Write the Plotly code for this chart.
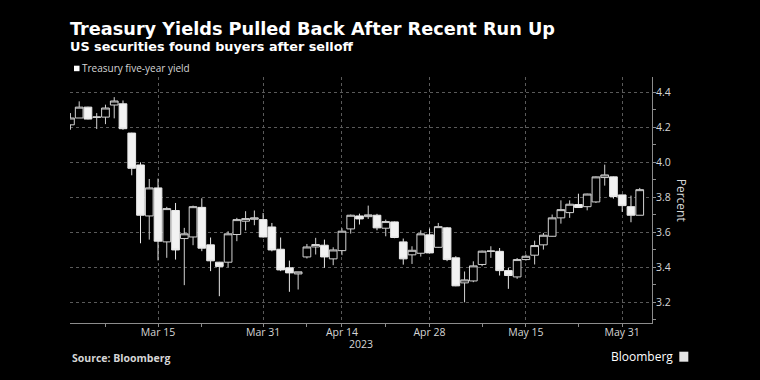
import plotly.graph_objects as go

dates = ["2023-03-01","2023-03-02","2023-03-03","2023-03-06","2023-03-07","2023-03-08","2023-03-09","2023-03-10",
         "2023-03-13","2023-03-14","2023-03-15","2023-03-16","2023-03-17","2023-03-20","2023-03-21","2023-03-22",
         "2023-03-23","2023-03-24","2023-03-27","2023-03-28","2023-03-29","2023-03-30","2023-03-31","2023-04-03",
         "2023-04-04","2023-04-05","2023-04-06","2023-04-10","2023-04-11","2023-04-12","2023-04-13","2023-04-14",
         "2023-04-17","2023-04-18","2023-04-19","2023-04-20","2023-04-21","2023-04-24","2023-04-25","2023-04-26",
         "2023-04-27","2023-04-28","2023-05-01","2023-05-02","2023-05-03","2023-05-04","2023-05-05","2023-05-08",
         "2023-05-09","2023-05-10","2023-05-11","2023-05-12","2023-05-15","2023-05-16","2023-05-17","2023-05-18",
         "2023-05-19","2023-05-22","2023-05-23","2023-05-24","2023-05-25","2023-05-26","2023-05-30","2023-05-31",
         "2023-06-01","2023-06-02"]
open_ = [4.213,4.252,4.314,4.255,4.257,4.326,4.333,4.166,3.984,3.693,3.853,3.545,3.724,3.564,3.573,3.742,
         3.528,3.429,3.429,3.587,3.663,3.674,3.672,3.630,3.503,3.397,3.362,3.459,3.516,3.526,3.448,3.495,
         3.619,3.693,3.689,3.697,3.623,3.659,3.545,3.471,3.480,3.585,3.514,3.625,3.454,3.311,3.322,3.416,
         3.490,3.491,3.381,3.345,3.444,3.469,3.528,3.577,3.682,3.712,3.758,3.746,3.773,3.912,3.916,3.813,
         3.746,3.697]
high = [4.280,4.347,4.316,4.280,4.328,4.371,4.352,4.168,3.999,3.904,3.906,3.745,3.767,3.625,3.752,3.794,
        3.570,3.431,3.606,3.682,3.720,3.724,3.710,3.653,3.570,3.438,3.374,3.533,3.568,3.558,3.514,3.623,
        3.701,3.706,3.752,3.705,3.672,3.661,3.564,3.520,3.611,3.621,3.653,3.630,3.463,3.376,3.434,3.495,
        3.520,3.510,3.396,3.453,3.473,3.552,3.596,3.701,3.782,3.782,3.820,3.820,3.918,3.986,3.918,3.815,
        3.809,3.853]
low = [4.185,4.252,4.244,4.189,4.217,4.250,4.185,3.925,3.537,3.558,3.439,3.454,3.444,3.298,3.526,3.492,
       3.378,3.235,3.400,3.549,3.610,3.640,3.570,3.491,3.378,3.260,3.273,3.450,3.473,3.397,3.412,3.469,
       3.592,3.644,3.676,3.611,3.577,3.566,3.415,3.419,3.461,3.480,3.512,3.435,3.292,3.200,3.315,3.406,
       3.454,3.353,3.277,3.334,3.438,3.416,3.501,3.575,3.649,3.682,3.739,3.725,3.767,3.866,3.792,3.716,
       3.657,3.697]
close = [4.252,4.314,4.246,4.258,4.309,4.349,4.191,3.965,3.697,3.853,3.549,3.735,3.499,3.591,3.746,3.509,
         3.437,3.405,3.591,3.672,3.678,3.682,3.573,3.499,3.385,3.368,3.374,3.516,3.530,3.459,3.499,3.606,
         3.697,3.676,3.699,3.625,3.661,3.570,3.448,3.497,3.591,3.482,3.632,3.444,3.294,3.328,3.408,3.492,
         3.493,3.381,3.353,3.444,3.463,3.524,3.583,3.682,3.729,3.760,3.741,3.818,3.916,3.927,3.804,3.752,
         3.697,3.843]

tick_dates = ["2023-03-15","2023-03-31","2023-04-14","2023-04-28","2023-05-15","2023-05-31"]
tick_labels = ["Mar 15","Mar 31","Apr 14","Apr 28","May 15","May 31"]
minor_dates = ["2023-03-07","2023-03-22","2023-04-10","2023-04-21","2023-05-08","2023-05-23"]
holidays = ["2023-04-07","2023-05-29"]

noon = lambda d: d + " 12:00"

fig = go.Figure(go.Candlestick(
    x=[noon(d) for d in dates], open=open_, high=high, low=low, close=close,
    increasing=dict(line=dict(color="#d2d2d2", width=1), fillcolor="#000000"),
    decreasing=dict(line=dict(color="#e8e8e8", width=1), fillcolor="#f2f2f2"),
    whiskerwidth=0, showlegend=False, hoverinfo="skip"))

W, H = 760, 380
L, R, T, B = 70, 651.7, 77.3, 323.3
pw, ph = R - L, B - T
px = lambda x: (x - L) / pw
py = lambda y: (B - y) / ph

tickfont = dict(family="Open Sans", size=10.5, color="#d6d6d6")

fig.update_layout(
    width=W, height=H,
    margin=dict(l=L, r=W - R, t=T, b=H - B),
    paper_bgcolor="#000000", plot_bgcolor="#000000",
    boxgap=0.12, boxgroupgap=0,
    font=dict(family="Open Sans", color="#d6d6d6"),
    xaxis=dict(
        type="date",
        rangeslider=dict(visible=False),
        rangebreaks=[dict(bounds=["sat", "mon"]), dict(values=holidays)],
        range=["2023-03-01 10:48", "2023-06-05 21:36"],
        tickmode="array", tickvals=[noon(d) for d in tick_dates], ticktext=tick_labels,
        tickfont=tickfont, ticks="outside", ticklen=3, tickcolor="#8c8c8c",
        ticklabelstandoff=-4,
        showgrid=True, gridcolor="#5a5a5a", griddash="dot", gridwidth=1,
        showline=True, linecolor="#8c8c8c", linewidth=1,
        minor=dict(tickmode="array", tickvals=[noon(d) for d in minor_dates],
                   ticks="outside", ticklen=3, tickcolor="#8c8c8c", showgrid=False),
        zeroline=False, fixedrange=True,
    ),
    yaxis=dict(
        side="right", range=[3.082, 4.486],
        tickmode="linear", tick0=3.2, dtick=0.2, tickformat=".1f",
        tickfont=tickfont, ticks="outside", ticklen=3, tickcolor="#8c8c8c",
        ticklabelstandoff=-2,
        showgrid=True, gridcolor="#5a5a5a", griddash="dot", gridwidth=1,
        showline=True, linecolor="#8c8c8c", linewidth=1,
        minor=dict(dtick=0.1, tick0=3.1, ticks="outside", ticklen=3, tickcolor="#8c8c8c", showgrid=False),
        zeroline=False, fixedrange=True,
    ),
)

ann = []
ann.append(dict(text="<b>Treasury Yields Pulled Back After Recent Run Up</b>", x=px(68), y=py(29.3),
                xanchor="left", yanchor="middle", font=dict(family="DejaVu Sans", size=17.7, color="#ffffff")))
ann.append(dict(text="<b>US securities found buyers after selloff</b>", x=px(68), y=py(47.3),
                xanchor="left", yanchor="middle", font=dict(family="DejaVu Sans", size=12.8, color="#ffffff")))
ann.append(dict(text="Treasury five-year yield", x=px(80), y=py(68.5),
                xanchor="left", yanchor="middle", font=dict(family="Open Sans", size=10, color="#d6d6d6")))
ann.append(dict(text="Percent", x=px(682), y=0.5, textangle=90,
                xanchor="center", yanchor="middle", font=dict(family="Open Sans", size=12, color="#d6d6d6")))
ann.append(dict(text="2023", x=0.5, y=py(344),
                xanchor="center", yanchor="middle", font=dict(family="Open Sans", size=10.5, color="#d6d6d6")))
ann.append(dict(text="<b>Source: Bloomberg</b>", x=px(70), y=py(358),
                xanchor="left", yanchor="middle", font=dict(family="Open Sans", size=10.5, color="#d6d6d6")))
ann.append(dict(text="Bloomberg", x=px(675), y=py(357),
                xanchor="right", yanchor="middle", font=dict(family="Open Sans", size=12, color="#ffffff")))
for a in ann:
    a.update(xref="paper", yref="paper", showarrow=False)
fig.update_layout(annotations=ann)

shapes = [
    dict(type="rect", xref="paper", yref="paper", x0=px(74), x1=px(79.5), y0=py(71.5), y1=py(66),
         fillcolor="#ffffff", line=dict(width=0)),
    dict(type="rect", xref="paper", yref="paper", x0=px(679), x1=px(688), y0=py(362), y1=py(352),
         fillcolor="#e6e6e6", line=dict(width=0)),
]
fig.update_layout(shapes=shapes)

fig.write_html("out.html", config=dict(displayModeBar=False),
               post_script="document.body.style.margin='0';document.body.style.background='#000';")
